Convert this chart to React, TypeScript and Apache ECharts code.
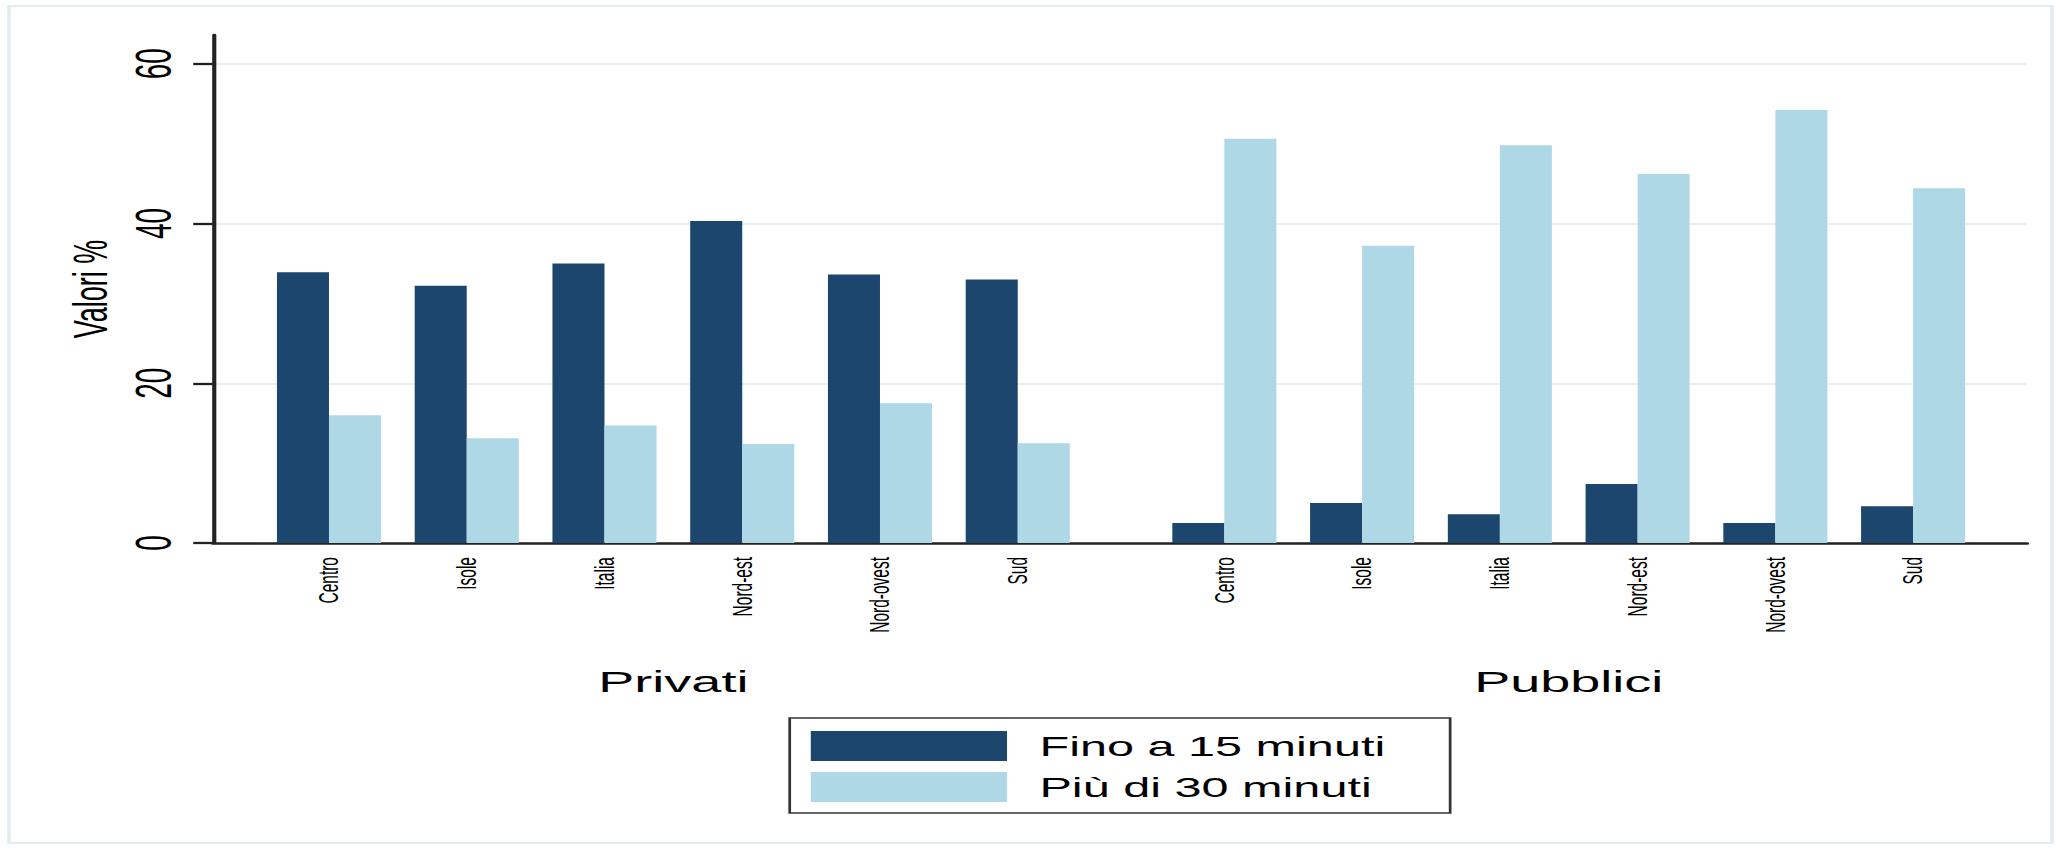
import React, { useEffect, useRef } from 'react';
import * as echarts from 'echarts';

// ---- data ----
const regions = ['Centro', 'Isole', 'Italia', 'Nord-est', 'Nord-ovest', 'Sud'];
const groups = ['Privati', 'Pubblici'];
const seriesNames = ['Fino a 15 minuti', 'Più di 30 minuti'];
const privatiFino15 = [33.9, 32.2, 35.0, 40.3, 33.6, 33.0];
const privatiOltre30 = [16.0, 13.1, 14.7, 12.4, 17.5, 12.5];
const pubbliciFino15 = [2.5, 5.0, 3.6, 7.4, 2.5, 4.6];
const pubbliciOltre30 = [50.6, 37.2, 49.8, 46.2, 54.2, 44.4];
const yTicks = [0, 20, 40, 60];

// ---- layout ----
const W = 1148;
const H = 851;
const STRETCH = 2067 / W;
const FONT = '"Liberation Sans", Arial, Helvetica, sans-serif';
const DARK = '#1c466e';
const LIGHT = '#aed8e5';

export default function App() {
  const ref = useRef<HTMLDivElement>(null);

  useEffect(() => {
    if (!ref.current) return;
    const chart = echarts.init(ref.current, null, { renderer: 'svg', width: W, height: H });

    const groupGap = 0.5;
    const pos = (g: number, i: number) => 1 + i + g * (regions.length + groupGap);
    const fino = [privatiFino15, pubbliciFino15];
    const oltre = [privatiOltre30, pubbliciOltre30];
    const toData = (vals: number[][]) =>
      groups.flatMap((_, g) => regions.map((_, i) => [pos(g, i), vals[g][i]]));
    const labelPositions = groups.flatMap((_, g) => regions.map((_, i) => pos(g, i)));
    const labelNames = groups.flatMap(() => regions);
    const groupCenters = groups.map((_, g) => (pos(g, 0) + pos(g, regions.length - 1)) / 2);
    const xMin = 0.158;
    const xMax = 13.327;

    const findLabel = (v: number, ps: number[], names: string[]) => {
      const k = ps.findIndex((p) => Math.abs(p - v) < 1e-6);
      return k >= 0 ? names[k] : '';
    };

    chart.setOption({
      animation: false,
      backgroundColor: '#ffffff',
      textStyle: { fontFamily: FONT },
      grid: { left: 118.3, right: 22.2, top: 35, bottom: 308, containLabel: false },
      legend: {
        orient: 'vertical',
        left: 438.6,
        top: 718,
        padding: [13, 36, 11, 11.7],
        itemGap: 11,
        itemWidth: 109,
        itemHeight: 30,
        icon: 'rect',
        borderColor: '#333',
        borderWidth: 1.5,
        selectedMode: false,
        textStyle: { fontSize: 27, color: '#000', fontFamily: FONT, padding: [0, 0, 0, 13] },
        data: seriesNames,
      },
      xAxis: [
        {
          type: 'value',
          min: xMin,
          max: xMax,
          axisLine: { show: true, onZero: false, lineStyle: { color: '#222', width: 2.5 } },
          axisTick: { show: false },
          splitLine: { show: false },
          axisLabel: {
            customValues: labelPositions,
            formatter: (v: number) => findLabel(v, labelPositions, labelNames),
            rotate: 90,
            margin: 14,
            fontSize: 15.5,
            color: '#000',
            fontFamily: FONT,
          },
        },
        {
          type: 'value',
          position: 'bottom',
          offset: 115,
          min: xMin,
          max: xMax,
          axisLine: { show: false },
          axisTick: { show: false },
          splitLine: { show: false },
          axisLabel: {
            customValues: groupCenters,
            formatter: (v: number) => findLabel(v, groupCenters, groups),
            margin: 8,
            fontSize: 30,
            color: '#000',
            fontFamily: FONT,
          },
        },
      ],
      yAxis: {
        type: 'value',
        min: 0,
        max: 63.6,
        name: 'Valori %',
        nameLocation: 'middle',
        nameRotate: 90,
        nameGap: 52,
        nameTextStyle: { fontSize: 27, color: '#000', fontFamily: FONT },
        axisLine: { show: true, lineStyle: { color: '#222', width: 2.3 } },
        axisTick: { show: true, length: 11, customValues: yTicks, lineStyle: { color: '#222', width: 2.3 } },
        axisLabel: { customValues: yTicks, rotate: 90, margin: 19, fontSize: 28, color: '#000', fontFamily: FONT },
        splitLine: { show: true, lineStyle: { color: '#e6eff1', width: 2 } },
      },
      series: [
        {
          type: 'bar',
          name: seriesNames[0],
          xAxisIndex: 0,
          yAxisIndex: 0,
          data: toData(fino),
          barWidth: 28.9,
          barGap: '0%',
          itemStyle: { color: DARK },
        },
        {
          type: 'bar',
          name: seriesNames[1],
          xAxisIndex: 0,
          yAxisIndex: 0,
          data: toData(oltre),
          barWidth: 28.9,
          barGap: '0%',
          itemStyle: { color: LIGHT },
        },
      ],
      graphic: [
        {
          type: 'rect',
          silent: true,
          z: -10,
          shape: { x: 5, y: 6, width: 1134.7, height: 837 },
          style: { fill: 'none', stroke: '#e3edf0', lineWidth: 2 },
        },
      ],
    });

    return () => chart.dispose();
  }, []);

  return (
    <div
      ref={ref}
      style={{
        position: 'fixed',
        left: 0,
        top: 0,
        width: W,
        height: H,
        transform: `scaleX(${STRETCH})`,
        transformOrigin: '0 0',
        background: '#fff',
      }}
    />
  );
}
